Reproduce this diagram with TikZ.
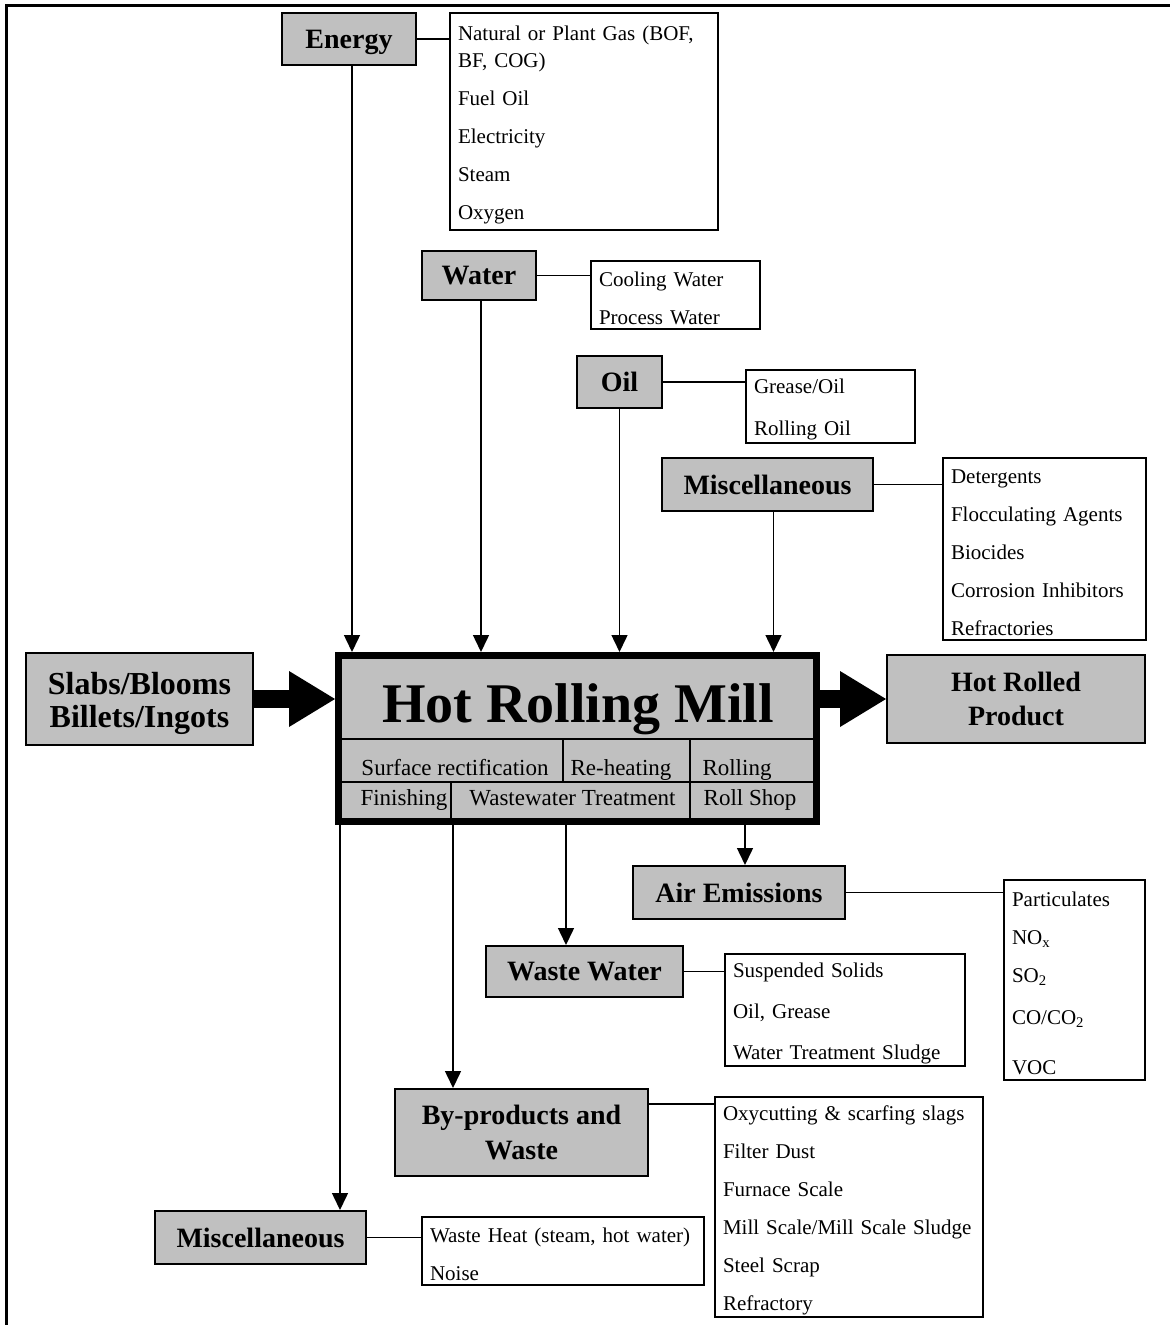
\documentclass[tikz,border=0pt]{standalone}
\usepackage{fontspec}
\setmainfont{Liberation Serif}
\usetikzlibrary{arrows.meta}
\definecolor{boxgray}{HTML}{C0C0C0}

\begin{document}
\begin{tikzpicture}[x=0.5pt,y=-0.5pt,>={Triangle[length=8.5pt,width=8pt]},
  cat/.style={draw,line width=1pt,fill=boxgray,inner sep=0pt,align=center,font=\bfseries\fontsize{14}{17.5}\selectfont},
  lst/.style={draw,line width=0.8pt,fill=white,inner xsep=4pt,inner ysep=0pt,align=left,
    font=\fontsize{10.5}{19}\selectfont,execute at begin node={\rule{0pt}{10.5pt}}},
  cell/.style={inner sep=0pt,anchor=base,font=\fontsize{11.5}{13}\selectfont},
  link/.style={line width=0.75pt},
  fat/.style={line width=9pt,-{Triangle[length=23pt,width=28pt,line width=0pt]}}]
\useasboundingbox (0,0) rectangle (1170,1325);
\draw[line width=1.5pt] (6.5,1325) |- (1170,5.5);

% inputs
\node[cat,minimum width=67pt,minimum height=26pt,text depth=0pt] (energy) at (349,39) {Energy};
\node[lst,text width=126pt,minimum height=108.5pt] (energylist) at (584,121.5)
  {Natural or Plant Gas (BOF,\\[-5.5pt]BF, COG)\\Fuel Oil\\Electricity\\Steam\\Oxygen};
\node[cat,minimum width=57pt,minimum height=24.5pt] (water) at (479,275.5) {Water};
\node[lst,text width=76.5pt,minimum height=34pt] (waterlist) at (675.5,295)
  {Cooling Water\\Process Water};
\node[cat,minimum width=42.5pt,minimum height=26pt] (oil) at (619.5,382) {Oil};
\node[lst,text width=76.5pt,minimum height=36.5pt] (oillist) at (830.5,406.5)
  {Grease/Oil\\[2pt]Rolling Oil};
\node[cat,minimum width=105.5pt,minimum height=26.5pt] (misctop) at (767.5,484.5) {Miscellaneous};
\node[lst,text width=93.5pt,minimum height=91pt] (misclist) at (1044.5,549)
  {Detergents\\Flocculating Agents\\Biocides\\Corrosion Inhibitors\\Refractories};

\node[cat,minimum width=113.5pt,minimum height=46pt,font=\bfseries\fontsize{16}{16.5}\selectfont] (slabs) at (139.5,699)
  {\rule{0pt}{15.5pt}Slabs/Blooms\\Billets/Ingots};

% mill
\node[draw,line width=3.5pt,fill=boxgray,minimum width=239pt,minimum height=83pt,inner sep=0pt] (mill) at (577.5,738.5) {};
\node[inner sep=0pt,anchor=base,font=\bfseries\fontsize{28}{30}\selectfont] (title) at (578,722) {Hot Rolling Mill};
\draw[line width=0.8pt] (342,739) -- (813,739) (342,782) -- (813,782)
  (563,739) -- (563,782) (690,739) -- (690,819) (451,782) -- (451,819);
\node[cell] (surface) at (455,775) {Surface rectification};
\node[cell] (reheat) at (621,775) {Re-heating};
\node[cell] (rolling) at (737,775) {Rolling};
\node[cell] (finish) at (404,805) {Finishing};
\node[cell] (wwt) at (572.5,805) {Wastewater Treatment};
\node[cell] (rollshop) at (750,805) {Roll Shop};

\node[cat,minimum width=129pt,minimum height=44pt,font=\bfseries\fontsize{14}{17}\selectfont] (product) at (1016,699)
  {Hot Rolled\\Product};

% outputs
\node[cat,minimum width=106pt,minimum height=26.5pt] (air) at (739,892.5) {Air Emissions};
\node[lst,text width=62.5pt,minimum height=100pt] (airlist) at (1074.5,980)
  {Particulates\\NO\textsubscript{x}\\SO\textsubscript{2}\\[2pt]CO/CO\textsubscript{2}\\[6pt]VOC};
\node[cat,minimum width=98.5pt,minimum height=25.5pt] (wastewater) at (584.5,971.5) {Waste Water};
\node[lst,text width=112pt,minimum height=56pt] (wwlist) at (845,1010)
  {Suspended Solids\\[1.5pt]Oil, Grease\\[1.5pt]Water Treatment Sludge};
\node[cat,minimum width=126.5pt,minimum height=43.5pt] (byprod) at (521.5,1132.5) {By-products and\\Waste};
\node[lst,text width=126pt,minimum height=110pt] (bplist) at (849,1207)
  {Oxycutting \& scarfing slags\\Filter Dust\\Furnace Scale\\Mill Scale/Mill Scale Sludge\\Steel Scrap\\Refractory};
\node[cat,minimum width=105.5pt,minimum height=26.5pt] (miscbot) at (260.5,1237.5) {Miscellaneous};
\node[lst,text width=133pt,minimum height=34pt] (mblist) at (563,1251)
  {Waste Heat (steam, hot water)\\Noise};

% connectors
\draw[link,->] ([xshift=1.5pt]energy.south) -- ([xshift=1.5pt]energy.south |- mill.north);
\draw[link,->] ([xshift=1pt]water.south) -- ([xshift=1pt]water.south |- mill.north);
\draw[link,->] (oil.south) -- (oil.south |- mill.north);
\draw[link,->] ([xshift=3pt]misctop.south) -- ([xshift=3pt]misctop.south |- mill.north);
\draw[link] (energy.east) -- (energy.east -| energylist.west);
\draw[link] (water.east) -- (water.east -| waterlist.west);
\draw[link] (oil.east) -- (oil.east -| oillist.west);
\draw[link] (misctop.east) -- (misctop.east -| misclist.west);

\draw[fat] (slabs.east) -- (slabs.east -| mill.west);
\draw[fat] (mill.east |- product.west) -- (product.west);

\coordinate (out1) at ([xshift=2.5pt]mill.south west);
\coordinate (out2) at ([xshift=59pt]mill.south west);
\coordinate (out3) at ([xshift=115.5pt]mill.south west);
\coordinate (out4) at ([xshift=205pt]mill.south west);
\draw[link,->] (out1) -- (out1 |- miscbot.north);
\draw[link,->] (out2) -- (out2 |- byprod.north);
\draw[link,->] (out3) -- (out3 |- wastewater.north);
\draw[link,->] (out4) -- (out4 |- air.north);
\draw[link] (air.east) -- (air.east -| airlist.west);
\draw[link] (wastewater.east) -- (wastewater.east -| wwlist.west);
\draw[link] ([yshift=-4pt]bplist.north west -| byprod.east) -- ([yshift=-4pt]bplist.north west);
\draw[link] (miscbot.east) -- (miscbot.east -| mblist.west);
\end{tikzpicture}
\end{document}
